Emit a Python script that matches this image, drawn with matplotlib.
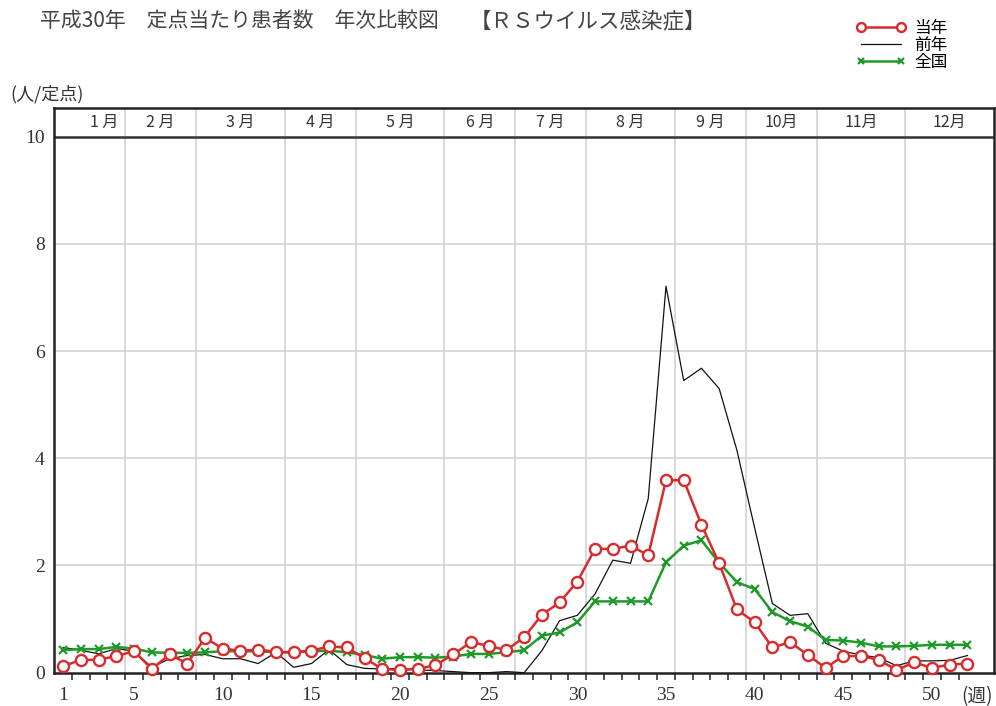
import matplotlib
matplotlib.use("Agg")
import matplotlib.pyplot as plt
import numpy as np

plt.rcParams['font.family'] = ['Noto Sans CJK JP', 'DejaVu Sans']

# weekly values (人/定点), weeks 1-52
weeks = np.arange(1, 53)
this_year = [0.12, 0.24, 0.24, 0.31, 0.40, 0.07, 0.34, 0.17, 0.65, 0.45,
             0.41, 0.43, 0.39, 0.38, 0.41, 0.49, 0.47, 0.27, 0.07, 0.05,
             0.07, 0.14, 0.34, 0.57, 0.50, 0.42, 0.66, 1.08, 1.31, 1.70,
             2.31, 2.31, 2.37, 2.19, 3.59, 3.59, 2.76, 2.04, 1.18, 0.94,
             0.47, 0.57, 0.33, 0.09, 0.31, 0.31, 0.24, 0.05, 0.19, 0.09,
             0.15, 0.17]
last_year = [0.47, 0.42, 0.35, 0.45, 0.40, 0.10, 0.26, 0.32, 0.34, 0.26,
             0.26, 0.17, 0.38, 0.10, 0.17, 0.43, 0.15, 0.08, 0.07, 0.08,
             0.05, 0.04, 0.02, 0.00, 0.00, 0.02, 0.00, 0.41, 0.97, 1.07,
             1.47, 2.10, 2.04, 3.25, 7.21, 5.45, 5.68, 5.30, 4.15, 2.70,
             1.29, 1.07, 1.10, 0.55, 0.40, 0.33, 0.28, 0.13, 0.22, 0.22,
             0.23, 0.32]
national = [0.42, 0.44, 0.44, 0.48, 0.45, 0.38, 0.37, 0.37, 0.38, 0.40,
            0.40, 0.40, 0.38, 0.38, 0.40, 0.41, 0.38, 0.33, 0.26, 0.29,
            0.29, 0.28, 0.30, 0.35, 0.35, 0.38, 0.42, 0.69, 0.75, 0.94,
            1.33, 1.33, 1.33, 1.33, 2.06, 2.37, 2.47, 2.05, 1.69, 1.56,
            1.13, 0.96, 0.86, 0.61, 0.60, 0.56, 0.49, 0.49, 0.50, 0.52,
            0.52, 0.52]

# month boundaries (in week units) and labels
month_bounds = [0.5, 4.5, 8.5, 13.5, 17.5, 22.5, 26.5, 30.5, 35.5, 39.5, 43.5, 48.5, 53.5]
month_labels = ['1 月', '2 月', '3 月', '4 月', '5 月', '6 月',
                '7 月', '8 月', '9 月', '10月', '11月', '12月']
week_ticks = [1, 5, 10, 15, 20, 25, 30, 35, 40, 45, 50]
y_ticks = [0, 2, 4, 6, 8, 10]

fig = plt.figure(figsize=(9.96, 7.06), dpi=100)
ax = fig.add_axes([0.0545, 0.0472, 0.9435, 0.7994])
ax.set_xlim(0.5, 53.5)
ax.set_ylim(0, 10.53)

grid_c = '#cfcfcf'
for b in month_bounds[1:-1]:
    ax.axvline(b, color=grid_c, lw=1.1, zorder=0)
for y in y_ticks[1:-1]:
    ax.axhline(y, color=grid_c, lw=1.1, zorder=0)
ax.axhline(10, color='#333333', lw=1.8, zorder=1)

for i, lab in enumerate(month_labels):
    xc = (month_bounds[i] + month_bounds[i + 1]) / 2
    if i == 0:
        xc += 0.8
    ax.text(xc, 10.265, lab, ha='center', va='center', fontsize=11.5, color='#333333')

l_black, = ax.plot(weeks, last_year, color='#111111', lw=0.9, zorder=3)
l_green, = ax.plot(weeks, national, color='#1f9a2a', lw=1.8, marker='x', ms=5.5,
                   mew=1.6, zorder=4, clip_on=False)
l_red, = ax.plot(weeks, this_year, color='#d92b2b', lw=1.8, marker='o', ms=8,
                 mfc='white', mec='#d92b2b', mew=1.7, zorder=5, clip_on=False)

for s in ax.spines.values():
    s.set_linewidth(1.8)
    s.set_color('#222222')

ax.set_xticks(week_ticks)
ax.set_xticklabels([str(w) for w in week_ticks], family='Liberation Serif', fontsize=14,
                   color='#333333')
ax.set_xticks(np.arange(1.5, 52, 1), minor=True)
ax.tick_params(axis='x', which='major', length=0, pad=10)
ax.tick_params(axis='x', which='minor', length=5, width=1.2, color='#333333', direction='out')
ax.set_yticks(y_ticks)
ax.set_yticklabels([str(v) for v in y_ticks], family='Liberation Serif', fontsize=14,
                   color='#333333')
ax.tick_params(axis='y', length=0, pad=7)

ax.text(52.55, -0.45, '(週)', ha='center', va='center', fontsize=13.5, color='#333333')

fig.text(10 / 996, 1 - 94 / 706, '(人/定点)', ha='left', va='center', fontsize=13, color='#333333')
fig.text(40 / 996, 1 - 21 / 706, '平成30年　定点当たり患者数　年次比較図', ha='left', va='center',
         fontsize=15, color='#444444')
fig.text(470 / 996, 1 - 21 / 706, '【ＲＳウイルス感染症】', ha='left', va='center',
         fontsize=15.5, color='#444444')

fig.legend(handles=[l_red, l_black, l_green], labels=['当年', '前年', '全国'],
           loc='upper left', bbox_to_anchor=(856 / 996, 1 - 20 / 706), frameon=False,
           numpoints=2, handlelength=3.0, labelspacing=0.0, handletextpad=0.5,
           markerscale=0.8, fontsize=12, borderpad=0, borderaxespad=0)

fig.savefig('out.png', dpi=100)
